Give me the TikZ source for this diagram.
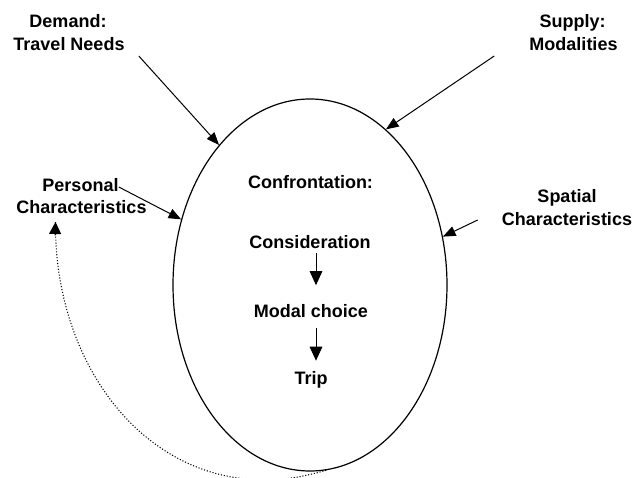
\documentclass[tikz,border=0pt]{standalone}
\usepackage{fontspec}
\setmainfont{Liberation Sans}
\usetikzlibrary{shapes.geometric,arrows.meta}
\tikzset{
  lbl/.style={inner sep=0pt, anchor=base, font=\bfseries\fontsize{13.5}{16}\selectfont},
  flow/.style={line width=0.75pt, -{Triangle[length=9.5pt,width=7.5pt]}},
  vflow/.style={line width=0.75pt, -{Triangle[length=10.5pt,width=9.5pt]}},
  fb/.style={line width=0.8pt, dash pattern=on 0.8pt off 1.4pt},
  fbtip/.style={line width=0.8pt, -{Triangle[length=9pt,width=9pt]}},
}
\begin{document}
\begin{tikzpicture}[x=0.75pt,y=-0.75pt]
\useasboundingbox (0,0) rectangle (636,478);
\clip (0,0) rectangle (636,478);
% ellipse
\node[draw, ellipse, line width=0.9pt, inner sep=0pt, minimum width=205.5pt, minimum height=279pt] (ell) at (310,285) {};
% outer labels
\node[lbl] (dem1) at (68,28) {Demand:};
\node[lbl] (dem2) at (69,51) {Travel Needs};
\node[lbl] (sup1) at (572.5,28) {Supply:};
\node[lbl] (sup2) at (573.5,51) {Modalities};
\node[lbl] (pers1) at (80.5,191) {Personal};
\node[lbl] (pers2) at (81.5,214) {Characteristics};
\node[lbl] (spa1) at (567,202) {Spatial};
\node[lbl] (spa2) at (567,225) {Characteristics};
% inner labels
\node[lbl] (conf) at (310.5,188) {Confrontation:};
\node[lbl] (cons) at (310,248) {Consideration};
\node[lbl] (modal) at (311,317) {Modal choice};
\node[lbl] (trip) at (311,384) {Trip};
% arrows into ellipse
\draw[flow] ([xshift=10.5pt,yshift=-3.75pt]dem2.base east) -- (ell.123);
\draw[flow] ([xshift=-26.25pt,yshift=-3.75pt]sup2.base west) -- (ell.64);
\draw[flow] ([yshift=3pt]pers1.base east) -- (ell.153);
\draw[flow] ([xshift=-18pt,yshift=3.75pt]spa2.base west) -- (ell.20);
% inner chain
\draw[vflow] ([xshift=4.5pt,yshift=-3.75pt]cons.base) -- ([xshift=3.75pt,yshift=13.9pt]modal.north);
\draw[vflow] ([xshift=3.75pt,yshift=-8.25pt]modal.base) -- ([xshift=3.75pt,yshift=7.5pt]trip.north);
% feedback
\coordinate (fbl) at (265,480);
\coordinate (fbend) at ([xshift=-19.5pt,yshift=-6pt]pers2.base);
\draw[fb] (ell.-85) .. controls (306,476) and (286,480) .. (fbl)
  .. controls (140,480) and (54,360) .. (fbend);
\draw[fbtip] ([xshift=-0.3pt,yshift=-10pt]fbend) -- (fbend);
\end{tikzpicture}
\end{document}
